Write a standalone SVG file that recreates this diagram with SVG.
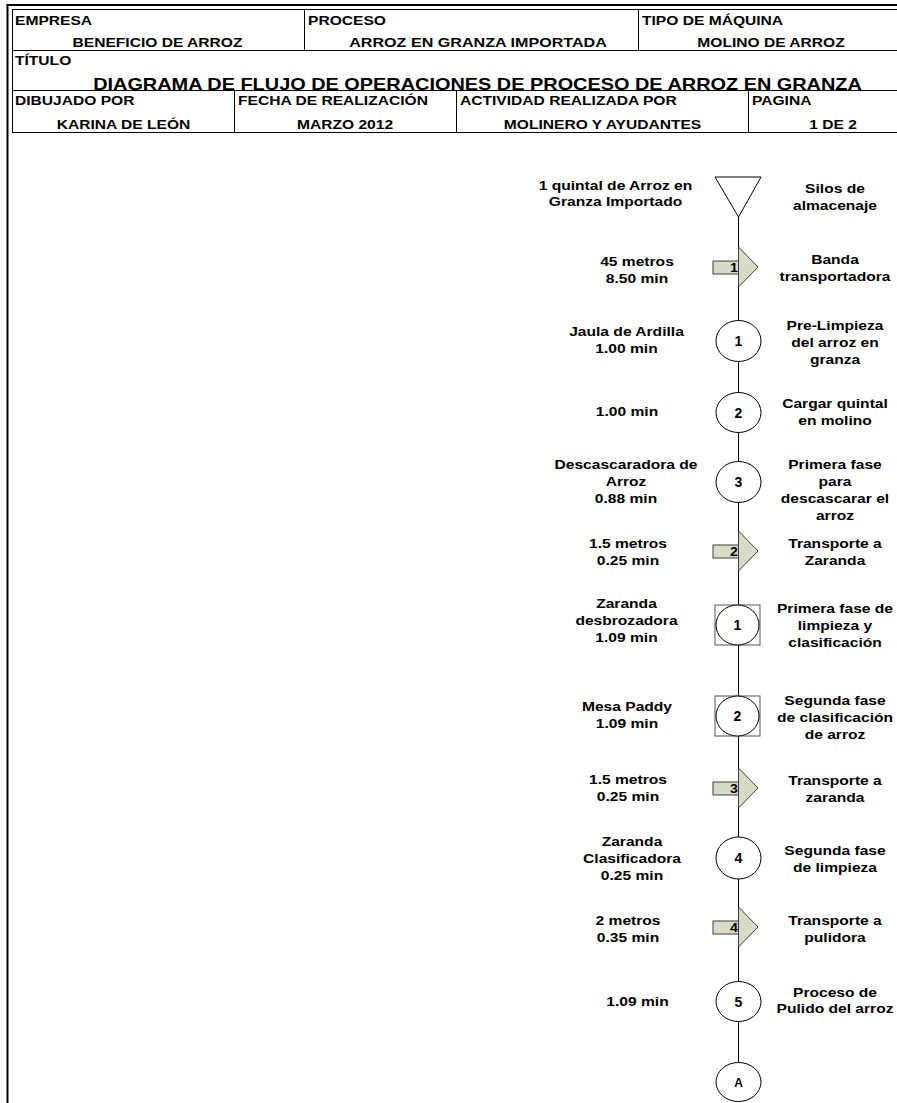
<svg xmlns="http://www.w3.org/2000/svg" width="897" height="1103" viewBox="0 0 897 1103">
<style>
.t{font-family:"Liberation Sans",Arial,sans-serif;font-weight:bold;font-size:13px;fill:#000}
.m{text-anchor:middle}
.ttl{font-family:"Liberation Sans",Arial,sans-serif;font-weight:bold;font-size:17px;fill:#000;text-anchor:middle}
.num{font-family:"Liberation Sans",Arial,sans-serif;font-weight:bold;font-size:14px;fill:#000;text-anchor:middle}
.hl{stroke:#000;stroke-width:1;fill:none}
.thick{stroke:#000;stroke-width:2;fill:none}
.op{fill:#fff;stroke:#000;stroke-width:1}
.sq{fill:#fff;stroke:#555;stroke-width:1}
.ar{fill:#d8dcc6;stroke:#3c3c3c;stroke-width:1}
.flow{stroke:#000;stroke-width:1;fill:none}
</style>

<g id="frame">
<line class="thick" x1="6.5" y1="5" x2="897" y2="5"/>
<line class="thick" x1="7.5" y1="4" x2="7.5" y2="1103"/>
<line class="hl" x1="12" y1="9.5" x2="897" y2="9.5"/>
<line class="hl" x1="12.5" y1="9.5" x2="12.5" y2="132.5"/>
<line class="hl" x1="12" y1="50.5" x2="897" y2="50.5"/>
<line class="hl" x1="12" y1="90.5" x2="897" y2="90.5"/>
<line class="hl" x1="12" y1="132.5" x2="897" y2="132.5"/>
<line class="hl" x1="304.5" y1="9.5" x2="304.5" y2="50.5"/>
<line class="hl" x1="638.5" y1="9.5" x2="638.5" y2="50.5"/>
<line class="hl" x1="234.5" y1="90.5" x2="234.5" y2="132.5"/>
<line class="hl" x1="456.5" y1="90.5" x2="456.5" y2="132.5"/>
<line class="hl" x1="748.5" y1="90.5" x2="748.5" y2="132.5"/>
</g>

<g id="header-text">
<text class="t" transform="translate(15 25) scale(1.2 1)">EMPRESA</text>
<text class="t" transform="translate(308 25) scale(1.2 1)">PROCESO</text>
<text class="t" transform="translate(642 25) scale(1.2 1)">TIPO DE MÁQUINA</text>
<text class="t m" transform="translate(157.5 46.5) scale(1.2 1)">BENEFICIO DE ARROZ</text>
<text class="t m" transform="translate(478 46.5) scale(1.24 1)">ARROZ EN GRANZA IMPORTADA</text>
<text class="t m" transform="translate(771 46.5) scale(1.2 1)">MOLINO DE ARROZ</text>
<text class="t" transform="translate(15 65) scale(1.2 1)">TÍTULO</text>
<text class="ttl" transform="translate(477.5 90) scale(1.17 1)">DIAGRAMA DE FLUJO DE OPERACIONES DE PROCESO DE ARROZ EN GRANZA</text>
<text class="t" transform="translate(15 104.5) scale(1.2 1)">DIBUJADO POR</text>
<text class="t" transform="translate(238 104.5) scale(1.2 1)">FECHA DE REALIZACIÓN</text>
<text class="t" transform="translate(460 104.5) scale(1.2 1)">ACTIVIDAD REALIZADA POR</text>
<text class="t" transform="translate(752 104.5) scale(1.2 1)">PAGINA</text>
<text class="t m" transform="translate(123.5 128.5) scale(1.2 1)">KARINA DE LEÓN</text>
<text class="t m" transform="translate(345 128.5) scale(1.2 1)">MARZO 2012</text>
<text class="t m" transform="translate(602.5 128.5) scale(1.2 1)">MOLINERO Y AYUDANTES</text>
<text class="t m" transform="translate(833 128.5) scale(1.2 1)">1 DE 2</text>
</g>

<g id="connectors">
<line class="flow" x1="738.5" y1="217" x2="738.5" y2="1062"/>
</g>

<g id="n-silos">
<polygon class="op" points="715,177 761,177 738.5,217"/>
<text class="t m" transform="translate(615.5 189.5) scale(1.2 1)"><tspan x="0">1 quintal de Arroz en</tspan><tspan x="0" dy="17">Granza Importado</tspan></text>
<text class="t m" transform="translate(835 193) scale(1.2 1)"><tspan x="0">Silos de</tspan><tspan x="0" dy="17">almacenaje</tspan></text>
</g>

<g id="n-t1">
<rect class="ar" x="713" y="261" width="25.5" height="13"/>
<polygon class="ar" points="738.5,247 758,267 738.5,287"/>
<text class="t m" transform="translate(734 272) scale(1.1 1)">1</text>
<text class="t m" transform="translate(637 266) scale(1.2 1)"><tspan x="0">45 metros</tspan><tspan x="0" dy="17">8.50 min</tspan></text>
<text class="t m" transform="translate(835 264) scale(1.2 1)"><tspan x="0">Banda</tspan><tspan x="0" dy="17">transportadora</tspan></text>
</g>

<g id="n-op1">
<ellipse class="op" cx="738.5" cy="341" rx="22.5" ry="20.5"/>
<text class="num" x="738.5" y="346">1</text>
<text class="t m" transform="translate(626.5 336) scale(1.2 1)"><tspan x="0">Jaula de Ardilla</tspan><tspan x="0" dy="17">1.00 min</tspan></text>
<text class="t m" transform="translate(835 330) scale(1.2 1)"><tspan x="0">Pre-Limpieza</tspan><tspan x="0" dy="17">del arroz en</tspan><tspan x="0" dy="17">granza</tspan></text>
</g>

<g id="n-op2">
<ellipse class="op" cx="738.5" cy="412.5" rx="22.5" ry="20"/>
<text class="num" x="738.5" y="417.5">2</text>
<text class="t m" transform="translate(627 416) scale(1.2 1)">1.00 min</text>
<text class="t m" transform="translate(835 408) scale(1.2 1)"><tspan x="0">Cargar quintal</tspan><tspan x="0" dy="17">en molino</tspan></text>
</g>

<g id="n-op3">
<ellipse class="op" cx="738.5" cy="482" rx="22.5" ry="20.5"/>
<text class="num" x="738.5" y="487">3</text>
<text class="t m" transform="translate(626 469) scale(1.2 1)"><tspan x="0">Descascaradora de</tspan><tspan x="0" dy="17">Arroz</tspan><tspan x="0" dy="17">0.88 min</tspan></text>
<text class="t m" transform="translate(835 469) scale(1.2 1)"><tspan x="0">Primera fase</tspan><tspan x="0" dy="17">para</tspan><tspan x="0" dy="17">descascarar el</tspan><tspan x="0" dy="17">arroz</tspan></text>
</g>

<g id="n-t2">
<rect class="ar" x="713" y="545" width="25.5" height="13"/>
<polygon class="ar" points="738.5,531 758,551 738.5,571"/>
<text class="t m" transform="translate(734 556) scale(1.1 1)">2</text>
<text class="t m" transform="translate(628 548) scale(1.2 1)"><tspan x="0">1.5 metros</tspan><tspan x="0" dy="17">0.25 min</tspan></text>
<text class="t m" transform="translate(835 548) scale(1.2 1)"><tspan x="0">Transporte a</tspan><tspan x="0" dy="17">Zaranda</tspan></text>
</g>

<g id="n-comb1">
<rect class="sq" x="715" y="605" width="45" height="40"/>
<ellipse class="op" cx="737.5" cy="625" rx="21.5" ry="20"/>
<text class="num" x="737.5" y="630">1</text>
<text class="t m" transform="translate(626.5 608) scale(1.2 1)"><tspan x="0">Zaranda</tspan><tspan x="0" dy="17">desbrozadora</tspan><tspan x="0" dy="17">1.09 min</tspan></text>
<text class="t m" transform="translate(835 613) scale(1.2 1)"><tspan x="0">Primera fase de</tspan><tspan x="0" dy="17">limpieza y</tspan><tspan x="0" dy="17">clasificación</tspan></text>
</g>

<g id="n-comb2">
<rect class="sq" x="715" y="696" width="45" height="40"/>
<ellipse class="op" cx="737.5" cy="716" rx="21.5" ry="20"/>
<text class="num" x="737.5" y="721">2</text>
<text class="t m" transform="translate(627 711) scale(1.2 1)"><tspan x="0">Mesa Paddy</tspan><tspan x="0" dy="17">1.09 min</tspan></text>
<text class="t m" transform="translate(835 705) scale(1.2 1)"><tspan x="0">Segunda fase</tspan><tspan x="0" dy="17">de clasificación</tspan><tspan x="0" dy="17">de arroz</tspan></text>
</g>

<g id="n-t3">
<rect class="ar" x="713" y="782" width="25.5" height="13"/>
<polygon class="ar" points="738.5,768 758,788 738.5,808"/>
<text class="t m" transform="translate(734 793) scale(1.1 1)">3</text>
<text class="t m" transform="translate(628 784) scale(1.2 1)"><tspan x="0">1.5 metros</tspan><tspan x="0" dy="17">0.25 min</tspan></text>
<text class="t m" transform="translate(835 785) scale(1.2 1)"><tspan x="0">Transporte a</tspan><tspan x="0" dy="17">zaranda</tspan></text>
</g>

<g id="n-op4">
<ellipse class="op" cx="738.5" cy="858" rx="22.5" ry="21"/>
<text class="num" x="738.5" y="863">4</text>
<text class="t m" transform="translate(632 846) scale(1.2 1)"><tspan x="0">Zaranda</tspan><tspan x="0" dy="17">Clasificadora</tspan><tspan x="0" dy="17">0.25 min</tspan></text>
<text class="t m" transform="translate(835 855) scale(1.2 1)"><tspan x="0">Segunda fase</tspan><tspan x="0" dy="17">de limpieza</tspan></text>
</g>

<g id="n-t4">
<rect class="ar" x="713" y="921" width="25.5" height="13"/>
<polygon class="ar" points="738.5,907 758,927 738.5,947"/>
<text class="t m" transform="translate(734 932) scale(1.1 1)">4</text>
<text class="t m" transform="translate(628 925) scale(1.2 1)"><tspan x="0">2 metros</tspan><tspan x="0" dy="17">0.35 min</tspan></text>
<text class="t m" transform="translate(835 925) scale(1.2 1)"><tspan x="0">Transporte a</tspan><tspan x="0" dy="17">pulidora</tspan></text>
</g>

<g id="n-op5">
<ellipse class="op" cx="738.5" cy="1001.5" rx="22.5" ry="20"/>
<text class="num" x="738.5" y="1006.5">5</text>
<text class="t m" transform="translate(637.5 1006) scale(1.2 1)">1.09 min</text>
<text class="t m" transform="translate(835 996.5) scale(1.2 1)"><tspan x="0">Proceso de</tspan><tspan x="0" dy="17">Pulido del arroz</tspan></text>
</g>

<g id="n-connA">
<ellipse class="op" cx="738.5" cy="1082" rx="22.5" ry="19.5"/>
<text class="num" x="738.5" y="1087" style="font-size:12px">A</text>
</g>
</svg>
